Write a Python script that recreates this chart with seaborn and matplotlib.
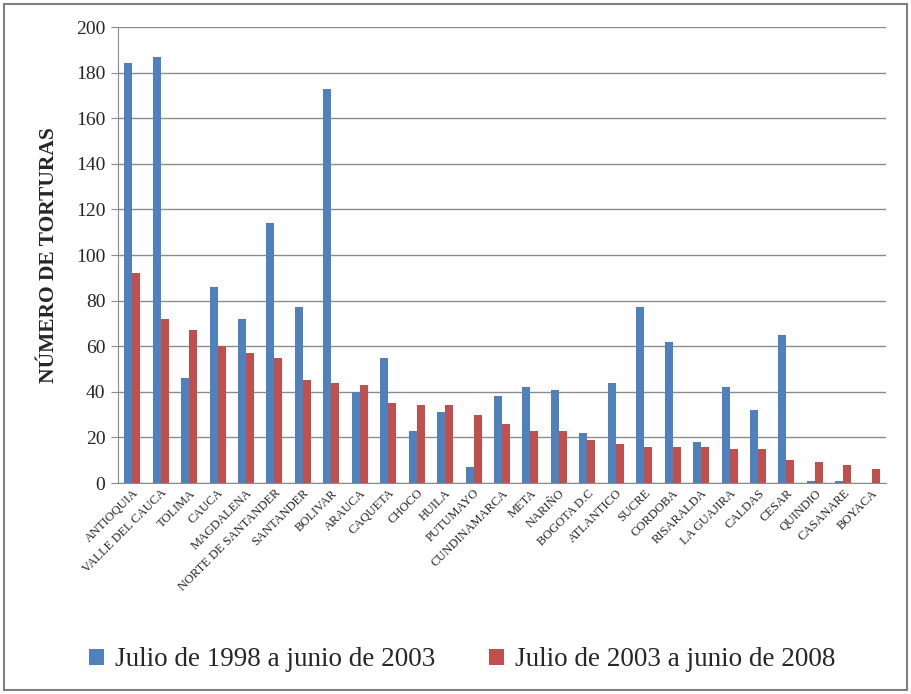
import pandas as pd
import seaborn as sns
from matplotlib import pyplot as plt
from matplotlib.patches import Rectangle

departamentos = ["ANTIOQUIA", "VALLE DEL CAUCA", "TOLIMA", "CAUCA", "MAGDALENA",
                 "NORTE DE SANTANDER", "SANTANDER", "BOLIVAR", "ARAUCA", "CAQUETA",
                 "CHOCO", "HUILA", "PUTUMAYO", "CUNDINAMARCA", "META", "NARIÑO",
                 "BOGOTA D.C", "ATLANTICO", "SUCRE", "CORDOBA", "RISARALDA",
                 "LA GUAJIRA", "CALDAS", "CESAR", "QUINDIO", "CASANARE", "BOYACA"]
periodo_1 = [184, 187, 46, 86, 72, 114, 77, 173, 40, 55, 23, 31, 7, 38, 42, 41,
             22, 44, 77, 62, 18, 42, 32, 65, 1, 1, 0]
periodo_2 = [92, 72, 67, 60, 57, 55, 45, 44, 43, 35, 34, 34, 30, 26, 23, 23,
             19, 17, 16, 16, 16, 15, 15, 10, 9, 8, 6]
series = ["Julio de 1998 a junio de 2003", "Julio de 2003 a junio de 2008"]
colores = ["#4F81BD", "#C0504D"]

df = pd.DataFrame({"dep": departamentos * 2,
                   "valor": periodo_1 + periodo_2,
                   "serie": [series[0]] * len(departamentos) + [series[1]] * len(departamentos)})

sns.set_style("white")
plt.rcParams["font.family"] = ["Liberation Serif", "DejaVu Serif"]

fig = plt.figure(figsize=(9.11, 6.94), dpi=100)
ax = fig.add_axes([118 / 911, 1 - 483 / 694, 768 / 911, 456 / 694])

sns.barplot(data=df, x="dep", y="valor", hue="serie", palette=colores,
            width=0.56, saturation=1, ax=ax, legend=True, edgecolor="none")

ax.set_ylim(0, 200)
ax.set_xlim(-0.5, len(departamentos) - 0.5)
ax.set_yticks(range(0, 201, 20))
ax.yaxis.grid(True, color="#8c8c8c", linewidth=1)
ax.set_axisbelow(True)
ax.tick_params(axis="y", labelsize=14, length=5, left=True, color="#8c8c8c", pad=4)
ax.tick_params(axis="x", length=0, pad=3)
ax.set_xticks(range(len(departamentos)))
ax.set_xticklabels(departamentos, rotation=45, ha="right", rotation_mode="anchor", fontsize=9)
ax.set_xlabel("")
ax.set_ylabel("NÚMERO DE TORTURAS", fontsize=15.5, fontweight="bold", labelpad=12)
for s in ["top", "right"]:
    ax.spines[s].set_visible(False)
for s in ["left", "bottom"]:
    ax.spines[s].set_color("#8c8c8c")

h, l = ax.get_legend_handles_labels()
ax.legend(h, l, loc="center", bbox_to_anchor=(462 / 911, 1 - 660 / 694),
          bbox_transform=fig.transFigure, ncol=2, frameon=False, fontsize=19.5,
          handlelength=0.55, handleheight=0.55, columnspacing=2.0, handletextpad=0.4)

fig.patches.append(Rectangle((4 / 911, 4 / 694), 903 / 911, 686 / 694, transform=fig.transFigure,
                             fill=False, edgecolor="#7f7f7f", linewidth=1.5))

fig.savefig("out.png", dpi=100)
